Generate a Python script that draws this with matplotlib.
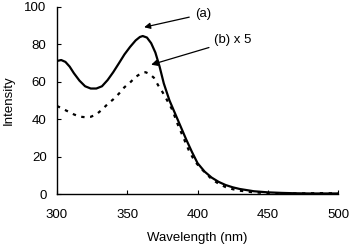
import matplotlib
matplotlib.use("Agg")
import matplotlib.pyplot as plt

plt.rcParams['font.family'] = ['Liberation Sans', 'DejaVu Sans']

# spectrum (a)
wl_a = [300, 303, 306, 309, 312, 316, 320, 324, 328, 332, 336, 340, 344, 348, 352, 356,
        359, 361, 364, 367, 370, 373, 376, 380, 384, 388, 392, 396, 400, 405, 410, 415,
        420, 425, 430, 440, 450, 460, 470, 480, 490, 500]
int_a = [71, 71.5, 70.5, 68, 64.5, 60.5, 57.5, 56.3, 56.3, 57.5, 60.8, 65, 69.7, 74.5, 78.5, 82,
         83.8, 84.3, 83.5, 80.5, 75.5, 68, 59, 50, 43, 36, 29, 22.5, 16.5, 12, 8.8, 6.5,
         4.8, 3.6, 2.7, 1.5, 0.9, 0.6, 0.4, 0.3, 0.3, 0.3]

# spectrum (b) x 5
wl_b = [300, 304, 308, 312, 316, 320, 324, 328, 332, 336, 340, 344, 348, 352, 356, 360,
        363, 366, 369, 372, 375, 378, 382, 386, 390, 394, 398, 402, 406, 410, 415, 420,
        425, 430, 440, 450, 460, 470, 480, 490, 500]
int_b = [47, 45.5, 44, 42.5, 41.3, 41, 41.2, 42.5, 45, 48, 50.5, 53.5, 57, 59.5, 62.5, 64.5,
         65, 64, 62, 58, 54.5, 50.5, 45, 37, 30, 23, 17.5, 14, 11, 8, 5.5, 3.7,
         2.6, 1.8, 0.9, 0.5, 0.3, 0.3, 0.4, 0.5, 0.3]

fig = plt.figure(figsize=(3.54, 2.45), dpi=100)
ax = fig.add_axes([0.161, 0.208, 0.794, 0.765])

ax.plot(wl_a, int_a, color='black', lw=1.6)
ax.plot(wl_b, int_b, color='black', lw=1.6, ls=(0, (1.5, 2.5)))

ax.set_xlim(300, 500)
ax.set_ylim(0, 100)
ax.set_xticks([300, 350, 400, 450, 500])
ax.set_yticks([0, 20, 40, 60, 80, 100])
ax.tick_params(direction='in', length=3, width=0.8, labelsize=9.5)
ax.tick_params(axis='x', pad=11)
ax.tick_params(axis='y', pad=7.5)
for s in ['top', 'right']:
    ax.spines[s].set_visible(False)
for s in ['left', 'bottom']:
    ax.spines[s].set_linewidth(1.0)

ax.set_xlabel('Wavelength (nm)', fontsize=9.5, labelpad=8)
ax.set_ylabel('Intensity', fontsize=9.5, labelpad=7)

ax.annotate('(a)', xy=(362, 89), xytext=(398, 96), fontsize=9.5, va='center',
            arrowprops=dict(arrowstyle='-|>', color='black', lw=0.9, shrinkB=0,
                            mutation_scale=9))
ax.annotate('(b) x 5', xy=(367, 69), xytext=(412, 82), fontsize=9.5, va='center',
            arrowprops=dict(arrowstyle='-|>', color='black', lw=0.9, shrinkB=0,
                            mutation_scale=9))

fig.savefig('out.png', dpi=100)
